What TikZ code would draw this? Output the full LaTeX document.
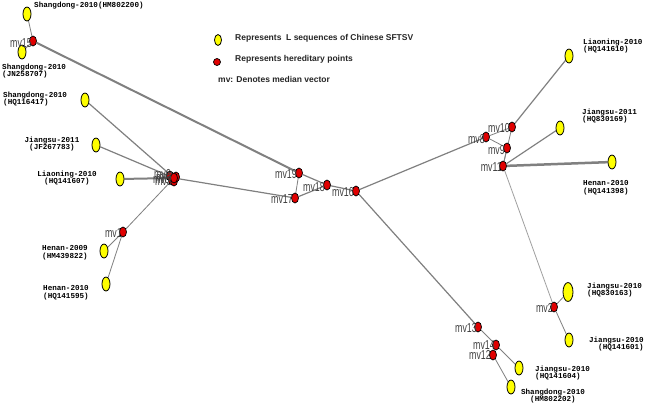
\documentclass[tikz,border=0pt]{standalone}
\usepackage{fontspec}
\setmainfont{Liberation Sans}
\newfontfamily\mvfont[FakeStretch=0.68]{Liberation Sans}
\newfontfamily\seqfont{Liberation Mono}
\usetikzlibrary{shapes.geometric,backgrounds}
\definecolor{edgegray}{HTML}{808080}
\definecolor{lightedge}{HTML}{A0A0A0}
\definecolor{yel}{HTML}{FFFF00}
\definecolor{rd}{HTML}{E00000}
\definecolor{labgray}{HTML}{404040}
\tikzset{
  yelnode/.style={ellipse, draw=black, line width=0.8pt, fill=yel, minimum width=8pt, minimum height=14pt, inner sep=0pt},
  bigyel/.style={yelnode, minimum width=10pt, minimum height=19pt},
  rednode/.style={ellipse, draw=black, line width=0.7pt, fill=rd, minimum width=7pt, minimum height=10pt, inner sep=0pt},
  mvl/.style={font=\mvfont\fontsize{13}{13}\selectfont, text=labgray, inner sep=0pt, anchor=east},
  seq/.style={font=\seqfont\bfseries\fontsize{7.6}{7.8}\selectfont, inner sep=0pt},
  legtext/.style={font=\bfseries\fontsize{8.5}{10}\selectfont, text=black!85, inner sep=0pt, anchor=west},
  ed/.style={draw=edgegray, line width=1.2pt},
  edthick/.style={draw=edgegray, line width=2pt},
  edthin/.style={draw=edgegray, line width=0.8pt},
  edlight/.style={draw=lightedge, line width=0.8pt}
}
\begin{document}
\begin{tikzpicture}[x=1pt,y=-1pt]
\useasboundingbox (0,0) rectangle (645,405);
% yellow nodes
\node[yelnode] (y1) at (27,14) {};
\node[yelnode] (y2) at (22,52) {};
\node[yelnode] (y3) at (85,100) {};
\node[yelnode] (y4) at (96,145) {};
\node[yelnode] (y5) at (120,179) {};
\node[yelnode] (y6) at (104,251) {};
\node[yelnode] (y7) at (106,284) {};
\node[yelnode] (y8) at (569,56) {};
\node[yelnode] (y9) at (560,128) {};
\node[yelnode] (y10) at (612,162) {};
\node[bigyel] (y11) at (568,292) {};
\node[yelnode] (y12) at (569,340) {};
\node[yelnode] (y13) at (519,368) {};
\node[yelnode] (y14) at (511,387) {};
% red nodes
\node[rednode] (m15) at (33,41) {};
\node[rednode] (c2) at (170,176) {};
\node[rednode] (c5) at (172,180) {};
\node[rednode] (c4) at (174,181) {};
\node[rednode] (c3) at (176,177) {};
\node[rednode] (c) at (174,178) {};
\node[rednode] (m1) at (123,232) {};
\node[rednode] (m19) at (299,173) {};
\node[rednode] (m17) at (295,198) {};
\node[rednode] (m18) at (327,185) {};
\node[rednode] (m16) at (356,191) {};
\node[rednode] (m8) at (486,137) {};
\node[rednode] (m10) at (512,127) {};
\node[rednode] (m9) at (507,148) {};
\node[rednode] (m11) at (503,166) {};
\node[rednode] (m2) at (554,307) {};
\node[rednode] (m13) at (478,327) {};
\node[rednode] (m14) at (496,345) {};
\node[rednode] (m12) at (493,355) {};
% edges
\begin{scope}[on background layer]
\fill[white] (0,0) rectangle (645,405);
\draw[edthin] (y1) -- (m15);
\draw[edthin] (y2) -- (m15);
\draw[edthick] (m15) -- (m19);
\draw[ed] (y3) -- (c);
\draw[ed] (y4) -- (c);
\draw[edthick] (y5) -- (c);
\draw[edthin] (m1) -- (c);
\draw[edthin] (m1) -- (y6);
\draw[edthin] (m1) -- (y7);
\draw[ed] (c) -- (m17);
\draw[edthin] (m19) -- (m17);
\draw[ed] (m19) -- (m18);
\draw[ed] (m17) -- (m18);
\draw[ed] (m18) -- (m16);
\draw[ed] (m16) -- (m8);
\draw[ed] (m16) -- (m13);
\draw[edthin] (m8) -- (m10);
\draw[edthin] (m8) -- (m9);
\draw[ed] (m10) -- (y8);
\draw[edthin] (m10) -- (m11);
\draw[edthin] (m9) -- (m11);
\draw[ed] (m11) -- (y9);
\draw[draw=edgegray, line width=2.5pt] (m11) -- (y10);
\draw[edlight] (m11) -- (m2);
\draw[edthin] (m2) -- (y11);
\draw[edthin] (m2) -- (y12);
\draw[edthin] (m13) -- (m14);
\draw[edthin] (m14) -- (y13);
\draw[edthin] (m14) -- (m12);
\draw[edthin] (m12) -- (y14);
\end{scope}
% mv labels
\node[mvl] (l15) at (32,43) {mv15};
\node[mvl] (lc6) at (171,174) {mv6};
\node[mvl] (lc7) at (173,177) {mv7};
\node[mvl] (lc5) at (170,179) {mv5};
\node[mvl] (lc3) at (172,181) {mv3};
\node[mvl] (l1) at (122,233) {mv1};
\node[mvl] (l19) at (297,174) {mv19};
\node[mvl] (l17) at (293,199) {mv17};
\node[mvl] (l18) at (325,187) {mv18};
\node[mvl] (l16) at (354,192) {mv16};
\node[mvl] (l8) at (485,139) {mv8};
\node[mvl] (l10) at (510,128) {mv10};
\node[mvl] (l9) at (505,150) {mv9};
\node[mvl] (l11) at (502,167) {mv11};
\node[mvl] (l2) at (553,308) {mv2};
\node[mvl] (l13) at (477,328) {mv13};
\node[mvl] (l14) at (495,345) {mv14};
\node[mvl] (l12) at (491,355) {mv12};
% sequence labels
\node[seq, anchor=west] (s1) at (34,6) {Shangdong-2010(HM802200)};
\node[seq, anchor=west, align=left] (s2) at (2,71) {Shangdong-2010\\(JN258707)};
\node[seq, anchor=west, align=left] (s3) at (3,99) {Shangdong-2010\\(HQ116417)};
\node[seq, align=center] (s4) at (52,144) {Jiangsu-2011\\(JF267783)};
\node[seq, align=center] (s5) at (67,178) {Liaoning-2010\\(HQ141607)};
\node[seq, align=center] (s6) at (65,253) {Henan-2009\\(HM439822)};
\node[seq, align=center] (s7) at (66,293) {Henan-2010\\(HQ141595)};
\node[seq, anchor=west, align=left] (s8) at (583,46) {Liaoning-2010\\(HQ141610)};
\node[seq, anchor=west, align=left] (s9) at (582,116) {Jiangsu-2011\\(HQ830169)};
\node[seq, anchor=west, align=left] (s10) at (583,188) {Henan-2010\\(HQ141398)};
\node[seq, anchor=west, align=left] (s11) at (587,290) {Jiangsu-2010\\(HQ830163)};
\node[seq, anchor=east, align=right] (s12) at (644,344) {Jiangsu-2010\\(HQ141601)};
\node[seq, anchor=west, align=left] (s13) at (535,373) {Jiangsu-2010\\(HQ141604)};
\node[seq, align=center] (s14) at (553,396) {Shangdong-2010\\(HM802202)};
% legend
\node[yelnode, minimum width=7pt, minimum height=11pt] (leg1) at (218,40) {};
\node[legtext] (lt1) at (235,38) {Represents\ \ L sequences of Chinese SFTSV};
\node[rednode, minimum width=7pt, minimum height=7pt] (leg2) at (217,62) {};
\node[legtext] (lt2) at (235,59) {Represents hereditary points};
\node[legtext] (lt3) at (218,79) {mv: Denotes median vector};
\end{tikzpicture}
\end{document}
